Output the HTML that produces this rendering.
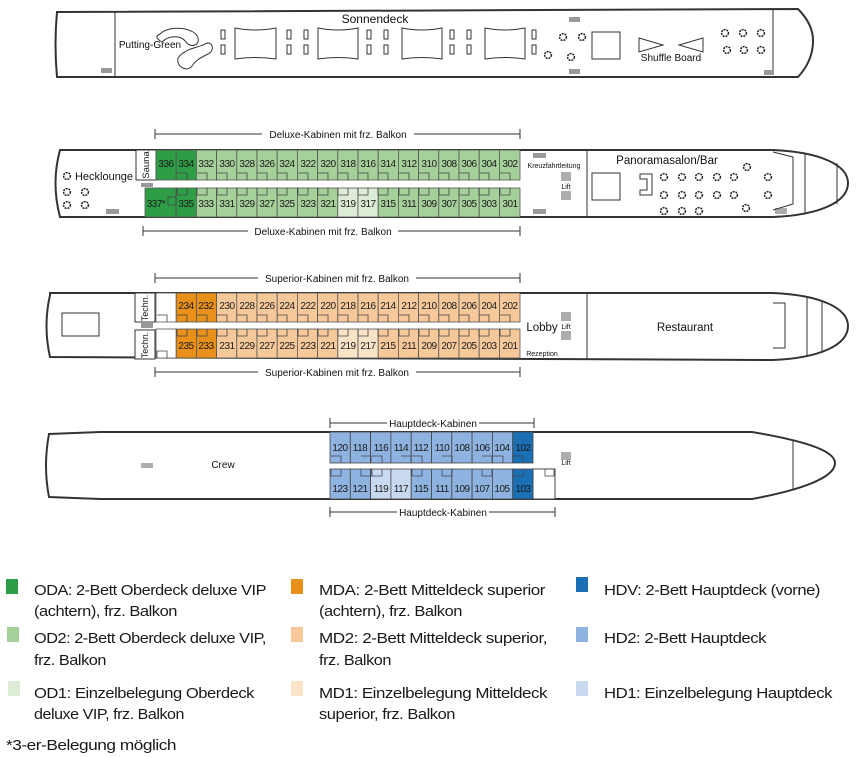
<!DOCTYPE html>
<html><head><meta charset="utf-8"><style>
html,body{margin:0;padding:0;background:#fff;}
svg{display:block;font-family:"Liberation Sans",sans-serif;}
.c{font-size:10px;letter-spacing:-0.5px;text-anchor:middle;fill:#1a1a1a;}
.l{font-size:10px;text-anchor:middle;fill:#111;}
.lg{font-size:14.5px;fill:#1a1a1a;letter-spacing:-0.4px;}
.h{fill:none;stroke:#333;stroke-width:2;}
.t{fill:none;stroke:#333;stroke-width:1;}
</style></head><body>
<svg width="860" height="757" viewBox="0 0 860 757" xmlns="http://www.w3.org/2000/svg">
<defs>
<g id="fl"><circle r="3.4" fill="none" stroke="#222" stroke-width="1.5" stroke-dasharray="2 0.9"/></g>
</defs>

<!-- ========== SUN DECK ========== -->
<path class="h" d="M57,12 L798,9 Q814,25 813,43 Q812,62 798,77 L57,77 Q54,44 57,12 Z"/>
<line class="t" x1="115" y1="11" x2="115" y2="77"/>
<line class="t" x1="773" y1="10" x2="773" y2="70"/>
<text x="375" y="23" font-size="12" text-anchor="middle" fill="#111">Sonnendeck</text>
<path class="t" d="M160,34 C170,24 196,28 198,38 C200,46 190,48 186,42 C182,36 170,34 162,42 C155,38 156,36 160,34 Z M178,58 C185,48 198,48 205,44 C212,40 216,50 208,54 C200,58 196,60 192,66 C188,72 176,68 178,58 Z"/>
<text x="150" y="48" font-size="10" text-anchor="middle" fill="#111">Putting-Green</text>
<g fill="none" stroke="#333" stroke-width="1">
<path d="M235,28 Q255,32 276,28 L276,59 Q255,56 235,59 Z"/>
<path d="M318,28 Q338,32 358,28 L358,59 Q338,56 318,59 Z"/>
<path d="M402,28 Q422,32 442,28 L442,59 Q422,56 402,59 Z"/>
<path d="M485,28 Q505,32 525,28 L525,59 Q505,56 485,59 Z"/>
<rect x="221" y="30" width="4" height="9"/><rect x="221" y="45" width="4" height="9"/>
<rect x="287" y="30" width="4" height="9"/><rect x="287" y="45" width="4" height="9"/>
<rect x="304" y="30" width="4" height="9"/><rect x="304" y="45" width="4" height="9"/>
<rect x="367" y="30" width="4" height="9"/><rect x="367" y="45" width="4" height="9"/>
<rect x="384" y="30" width="4" height="9"/><rect x="384" y="45" width="4" height="9"/>
<rect x="450" y="30" width="4" height="9"/><rect x="450" y="45" width="4" height="9"/>
<rect x="467" y="30" width="4" height="9"/><rect x="467" y="45" width="4" height="9"/>
<rect x="532" y="30" width="4" height="9"/><rect x="532" y="45" width="4" height="9"/>
<rect x="592" y="32" width="28" height="27"/>
<path d="M639,38 L663,45 L639,52 Z"/><path d="M703,38 L679,45 L703,52 Z"/>
</g>
<use href="#fl" x="563" y="37"/><use href="#fl" x="548" y="55"/><use href="#fl" x="582" y="37"/><use href="#fl" x="571" y="57"/>
<use href="#fl" x="725" y="33"/><use href="#fl" x="743" y="33"/><use href="#fl" x="761" y="33"/>
<use href="#fl" x="727" y="50"/><use href="#fl" x="744" y="50"/><use href="#fl" x="761" y="50"/>
<text x="671" y="61" font-size="10" text-anchor="middle" fill="#111">Shuffle Board</text>
<g fill="#999"><rect x="101" y="68" width="11" height="5"/><rect x="569" y="17" width="11" height="5"/><rect x="569" y="69" width="11" height="5"/><rect x="764" y="70" width="10" height="5"/></g>

<!-- ========== DECK 3 ========== -->
<g stroke="#333" stroke-width="1"><line x1="155" y1="134" x2="520" y2="134"/><line x1="155" y1="129" x2="155" y2="139"/><line x1="520" y1="129" x2="520" y2="139"/>
<line x1="143" y1="231" x2="520" y2="231"/><line x1="143" y1="226" x2="143" y2="236"/><line x1="520" y1="226" x2="520" y2="236"/></g>
<rect x="262" y="127" width="152" height="14" fill="#fff"/><text x="338" y="138" class="l">Deluxe-Kabinen mit frz. Balkon</text>
<rect x="248" y="224" width="150" height="14" fill="#fff"/><text x="323" y="235" class="l">Deluxe-Kabinen mit frz. Balkon</text>

<path class="h" d="M60,150 L773,150 C820,152 848,165 848,183 C848,202 820,215 773,217 L60,217 Q51,183 60,150 Z"/>
<line class="t" x1="587" y1="150" x2="587" y2="217"/>
<line class="t" x1="805" y1="153" x2="805" y2="214"/><line class="t" x1="837" y1="163" x2="837" y2="204"/>
<path class="t" d="M773,152 L793,157 L793,204 L773,210"/>
<g stroke="#333" stroke-width="0.8"><path d="M776,208v6M778,208v6M780,208v6M782,208v6M784,208v6M786,208v6"/></g>
<text x="667" y="164" font-size="11.5" text-anchor="middle" fill="#111">Panoramasalon/Bar</text>
<rect x="592" y="173" width="28" height="27" class="t"/>
<path class="t" d="M640,174 L652,174 L652,195 L640,195 L640,190 L647,190 L647,179 L640,179 Z"/>
<use href="#fl" x="664" y="177"/><use href="#fl" x="682" y="177"/><use href="#fl" x="699" y="177"/><use href="#fl" x="717" y="177"/><use href="#fl" x="734" y="177"/><use href="#fl" x="768" y="177"/>
<use href="#fl" x="664" y="195"/><use href="#fl" x="682" y="195"/><use href="#fl" x="699" y="195"/><use href="#fl" x="717" y="195"/><use href="#fl" x="734" y="195"/><use href="#fl" x="768" y="195"/>
<use href="#fl" x="664" y="211"/><use href="#fl" x="682" y="211"/><use href="#fl" x="699" y="211"/><use href="#fl" x="747" y="167"/><use href="#fl" x="746" y="208"/>
<text x="554" y="168" font-size="7" text-anchor="middle" fill="#111">Kreuzfahrtleitung</text>
<text x="566" y="189" font-size="7" text-anchor="middle" fill="#111">Lift</text>
<g stroke="#333" stroke-width="0.8"><path d="M562,172v9M564,172v9M566,172v9M568,172v9M570,172v9M562,191v9M564,191v9M566,191v9M568,191v9M570,191v9"/></g>
<g fill="#999"><rect x="533" y="153" width="13" height="5"/><rect x="533" y="209" width="13" height="5"/><rect x="106" y="209" width="13" height="5"/><rect x="141" y="183" width="12" height="4"/></g>
<text x="104" y="180" font-size="11" text-anchor="middle" fill="#111">Hecklounge</text>
<use href="#fl" x="67" y="176"/><use href="#fl" x="67" y="192"/><use href="#fl" x="85" y="192"/><use href="#fl" x="67" y="205"/><use href="#fl" x="85" y="205"/>
<rect x="136" y="150" width="20" height="30" fill="#fff" stroke="#333"/>
<text transform="translate(149,165) rotate(-90)" font-size="9.5" text-anchor="middle" fill="#111">Sauna</text>

<g stroke="#555" stroke-width="0.8">
<rect x="156" y="150" width="20.2" height="30" fill="#2e9e46"/><rect x="176.2" y="150" width="20.2" height="30" fill="#2e9e46"/>
<rect x="196.4" y="150" width="20.2" height="30" fill="#a5d09a"/><rect x="216.6" y="150" width="20.2" height="30" fill="#a5d09a"/><rect x="236.8" y="150" width="20.2" height="30" fill="#a5d09a"/><rect x="257" y="150" width="20.2" height="30" fill="#a5d09a"/><rect x="277.2" y="150" width="20.2" height="30" fill="#a5d09a"/><rect x="297.4" y="150" width="20.2" height="30" fill="#a5d09a"/><rect x="317.6" y="150" width="20.2" height="30" fill="#a5d09a"/><rect x="337.8" y="150" width="20.2" height="30" fill="#a5d09a"/><rect x="358" y="150" width="20.2" height="30" fill="#a5d09a"/><rect x="378.2" y="150" width="20.2" height="30" fill="#a5d09a"/><rect x="398.4" y="150" width="20.2" height="30" fill="#a5d09a"/><rect x="418.6" y="150" width="20.2" height="30" fill="#a5d09a"/><rect x="438.8" y="150" width="20.2" height="30" fill="#a5d09a"/><rect x="459" y="150" width="20.2" height="30" fill="#a5d09a"/><rect x="479.2" y="150" width="20.2" height="30" fill="#a5d09a"/><rect x="499.4" y="150" width="20.6" height="30" fill="#a5d09a"/>
<rect x="145" y="188" width="31" height="29" fill="#2e9e46"/><rect x="176.2" y="188" width="20.2" height="29" fill="#2e9e46"/>
<rect x="196.4" y="188" width="20.2" height="29" fill="#a5d09a"/><rect x="216.6" y="188" width="20.2" height="29" fill="#a5d09a"/><rect x="236.8" y="188" width="20.2" height="29" fill="#a5d09a"/><rect x="257" y="188" width="20.2" height="29" fill="#a5d09a"/><rect x="277.2" y="188" width="20.2" height="29" fill="#a5d09a"/><rect x="297.4" y="188" width="20.2" height="29" fill="#a5d09a"/><rect x="317.6" y="188" width="20.2" height="29" fill="#a5d09a"/><rect x="337.8" y="188" width="20.2" height="29" fill="#dcecd6"/><rect x="358" y="188" width="20.2" height="29" fill="#dcecd6"/><rect x="378.2" y="188" width="20.2" height="29" fill="#a5d09a"/><rect x="398.4" y="188" width="20.2" height="29" fill="#a5d09a"/><rect x="418.6" y="188" width="20.2" height="29" fill="#a5d09a"/><rect x="438.8" y="188" width="20.2" height="29" fill="#a5d09a"/><rect x="459" y="188" width="20.2" height="29" fill="#a5d09a"/><rect x="479.2" y="188" width="20.2" height="29" fill="#a5d09a"/><rect x="499.4" y="188" width="20.6" height="29" fill="#a5d09a"/>
</g>
<g fill="none" stroke="#444" stroke-width="0.8">
<path d="M177,173h10v7M197,173h10v7M217,173h10v7M237,173h10v7M257,173h10v7M277,173h10v7M298,173h10v7M318,173h10v7M338,173h10v7M358,173h10v7M378,173h10v7M399,173h10v7M419,173h10v7M439,173h10v7M459,173h10v7M479,173h10v7M500,173h10v7"/>
<path d="M177,188v7h10v-7M197,188v7h10v-7M217,188v7h10v-7M237,188v7h10v-7M257,188v7h10v-7M277,188v7h10v-7M298,188v7h10v-7M318,188v7h10v-7M338,188v7h10v-7M358,188v7h10v-7M378,188v7h10v-7M399,188v7h10v-7M419,188v7h10v-7M439,188v7h10v-7M459,188v7h10v-7M479,188v7h10v-7M500,188v7h10v-7"/>
<rect x="168" y="197" width="8" height="8"/>
</g>
<g class="c">
<text x="166" y="167">336</text><text x="186" y="167">334</text><text x="206" y="167">332</text><text x="227" y="167">330</text><text x="247" y="167">328</text><text x="267" y="167">326</text><text x="287" y="167">324</text><text x="308" y="167">322</text><text x="328" y="167">320</text><text x="348" y="167">318</text><text x="368" y="167">316</text><text x="388" y="167">314</text><text x="409" y="167">312</text><text x="429" y="167">310</text><text x="449" y="167">308</text><text x="469" y="167">306</text><text x="489" y="167">304</text><text x="510" y="167">302</text>
<text x="156" y="207">337*</text><text x="186" y="207">335</text><text x="206" y="207">333</text><text x="227" y="207">331</text><text x="247" y="207">329</text><text x="267" y="207">327</text><text x="287" y="207">325</text><text x="308" y="207">323</text><text x="328" y="207">321</text><text x="348" y="207">319</text><text x="368" y="207">317</text><text x="388" y="207">315</text><text x="409" y="207">311</text><text x="429" y="207">309</text><text x="449" y="207">307</text><text x="469" y="207">305</text><text x="489" y="207">303</text><text x="510" y="207">301</text>
</g>

<!-- ========== DECK 2 ========== -->
<g stroke="#333" stroke-width="1"><line x1="155" y1="278" x2="520" y2="278"/><line x1="155" y1="273" x2="155" y2="283"/><line x1="520" y1="273" x2="520" y2="283"/>
<line x1="155" y1="372" x2="520" y2="372"/><line x1="155" y1="367" x2="155" y2="377"/><line x1="520" y1="367" x2="520" y2="377"/></g>
<rect x="258" y="271" width="158" height="14" fill="#fff"/><text x="337" y="282" class="l">Superior-Kabinen mit frz. Balkon</text>
<rect x="258" y="365" width="158" height="14" fill="#fff"/><text x="337" y="376" class="l">Superior-Kabinen mit frz. Balkon</text>
<path class="h" d="M50,293 L773,293 C820,295 848,308 848,326 C848,345 820,358 773,360 L50,357 Q43,326 50,295 Z"/>
<line class="t" x1="587" y1="293" x2="587" y2="360"/>
<line class="t" x1="807" y1="296" x2="807" y2="357"/><line class="t" x1="822" y1="301" x2="822" y2="353"/>
<path class="t" d="M773,303 L785,303 L785,348 L773,348"/>
<rect x="62" y="313" width="37" height="23" class="t"/>
<text x="685" y="331" font-size="11.5" text-anchor="middle" fill="#111">Restaurant</text>
<text x="542" y="331" font-size="11.5" text-anchor="middle" fill="#111">Lobby</text>
<text x="566" y="329" font-size="7" text-anchor="middle" fill="#111">Lift</text>
<text x="542" y="356" font-size="7" text-anchor="middle" fill="#111">Rezeption</text>
<g stroke="#333" stroke-width="0.8"><path d="M562,312v9M564,312v9M566,312v9M568,312v9M570,312v9M562,331v9M564,331v9M566,331v9M568,331v9M570,331v9"/></g>
<rect x="135" y="293" width="20" height="29" fill="#fff" stroke="#333"/><rect x="135" y="330" width="20" height="29" fill="#fff" stroke="#333"/>
<rect x="141" y="323" width="12" height="5" fill="#999"/>
<text transform="translate(148,308) rotate(-90)" font-size="9" text-anchor="middle" fill="#111">Techn.</text>
<text transform="translate(148,345) rotate(-90)" font-size="9" text-anchor="middle" fill="#111">Techn.</text>
<g stroke="#555" stroke-width="0.8">
<rect x="156" y="293" width="20.2" height="29" fill="#fff"/><rect x="176.2" y="293" width="20.2" height="29" fill="#e8901a"/><rect x="196.4" y="293" width="20.2" height="29" fill="#e8901a"/><rect x="216.6" y="293" width="20.2" height="29" fill="#f7c99a"/><rect x="236.8" y="293" width="20.2" height="29" fill="#f7c99a"/><rect x="257" y="293" width="20.2" height="29" fill="#f7c99a"/><rect x="277.2" y="293" width="20.2" height="29" fill="#f7c99a"/><rect x="297.4" y="293" width="20.2" height="29" fill="#f7c99a"/><rect x="317.6" y="293" width="20.2" height="29" fill="#f7c99a"/><rect x="337.8" y="293" width="20.2" height="29" fill="#f7c99a"/><rect x="358" y="293" width="20.2" height="29" fill="#f7c99a"/><rect x="378.2" y="293" width="20.2" height="29" fill="#f7c99a"/><rect x="398.4" y="293" width="20.2" height="29" fill="#f7c99a"/><rect x="418.6" y="293" width="20.2" height="29" fill="#f7c99a"/><rect x="438.8" y="293" width="20.2" height="29" fill="#f7c99a"/><rect x="459" y="293" width="20.2" height="29" fill="#f7c99a"/><rect x="479.2" y="293" width="20.2" height="29" fill="#f7c99a"/><rect x="499.4" y="293" width="20.6" height="29" fill="#f7c99a"/>
<rect x="156" y="329" width="20.2" height="29" fill="#fff"/><rect x="176.2" y="329" width="20.2" height="29" fill="#e8901a"/><rect x="196.4" y="329" width="20.2" height="29" fill="#e8901a"/><rect x="216.6" y="329" width="20.2" height="29" fill="#f7c99a"/><rect x="236.8" y="329" width="20.2" height="29" fill="#f7c99a"/><rect x="257" y="329" width="20.2" height="29" fill="#f7c99a"/><rect x="277.2" y="329" width="20.2" height="29" fill="#f7c99a"/><rect x="297.4" y="329" width="20.2" height="29" fill="#f7c99a"/><rect x="317.6" y="329" width="20.2" height="29" fill="#f7c99a"/><rect x="337.8" y="329" width="20.2" height="29" fill="#fbe3c8"/><rect x="358" y="329" width="20.2" height="29" fill="#fbe3c8"/><rect x="378.2" y="329" width="20.2" height="29" fill="#f7c99a"/><rect x="398.4" y="329" width="20.2" height="29" fill="#f7c99a"/><rect x="418.6" y="329" width="20.2" height="29" fill="#f7c99a"/><rect x="438.8" y="329" width="20.2" height="29" fill="#f7c99a"/><rect x="459" y="329" width="20.2" height="29" fill="#f7c99a"/><rect x="479.2" y="329" width="20.2" height="29" fill="#f7c99a"/><rect x="499.4" y="329" width="20.6" height="29" fill="#f7c99a"/>
</g>
<g fill="none" stroke="#444" stroke-width="0.8">
<path d="M157,315h10v7M177,315h10v7M197,315h10v7M217,315h10v7M237,315h10v7M257,315h10v7M277,315h10v7M298,315h10v7M318,315h10v7M338,315h10v7M358,315h10v7M378,315h10v7M399,315h10v7M419,315h10v7M439,315h10v7M459,315h10v7M479,315h10v7M500,315h10v7"/>
<path d="M177,329v7h10v-7M197,329v7h10v-7M217,329v7h10v-7M237,329v7h10v-7M257,329v7h10v-7M277,329v7h10v-7M298,329v7h10v-7M318,329v7h10v-7M338,329v7h10v-7M358,329v7h10v-7M378,329v7h10v-7M399,329v7h10v-7M419,329v7h10v-7M439,329v7h10v-7M459,329v7h10v-7M479,329v7h10v-7M500,329v7h10v-7M157,358v-7h10v7"/>
</g>
<g class="c">
<text x="186" y="309">234</text><text x="206" y="309">232</text><text x="227" y="309">230</text><text x="247" y="309">228</text><text x="267" y="309">226</text><text x="287" y="309">224</text><text x="308" y="309">222</text><text x="328" y="309">220</text><text x="348" y="309">218</text><text x="368" y="309">216</text><text x="388" y="309">214</text><text x="409" y="309">212</text><text x="429" y="309">210</text><text x="449" y="309">208</text><text x="469" y="309">206</text><text x="489" y="309">204</text><text x="510" y="309">202</text>
<text x="186" y="349">235</text><text x="206" y="349">233</text><text x="227" y="349">231</text><text x="247" y="349">229</text><text x="267" y="349">227</text><text x="287" y="349">225</text><text x="308" y="349">223</text><text x="328" y="349">221</text><text x="348" y="349">219</text><text x="368" y="349">217</text><text x="388" y="349">215</text><text x="409" y="349">211</text><text x="429" y="349">209</text><text x="449" y="349">207</text><text x="469" y="349">205</text><text x="489" y="349">203</text><text x="510" y="349">201</text>
</g>

<!-- ========== DECK 1 ========== -->
<g stroke="#333" stroke-width="1"><line x1="330" y1="423" x2="534" y2="423"/><line x1="330" y1="418" x2="330" y2="428"/><line x1="534" y1="418" x2="534" y2="428"/>
<line x1="330" y1="512" x2="555" y2="512"/><line x1="330" y1="507" x2="330" y2="517"/><line x1="555" y1="507" x2="555" y2="517"/></g>
<rect x="387" y="416" width="92" height="14" fill="#fff"/><text x="433" y="427" class="l">Hauptdeck-Kabinen</text>
<rect x="397" y="505" width="92" height="14" fill="#fff"/><text x="443" y="516" class="l">Hauptdeck-Kabinen</text>
<path class="h" d="M49,434 L100,432 L752,432 C800,440 835,450 835,463 C835,478 800,490 752,499 L100,499 L49,497 Q43,466 49,434 Z"/>
<line class="t" x1="793" y1="441" x2="793" y2="489"/>
<g stroke="#333" stroke-width="0.8"><path d="M142,463v5M144,463v5M146,463v5M148,463v5M150,463v5M152,463v5"/><path d="M562,452v8M564,452v8M566,452v8M568,452v8M570,452v8"/></g>
<text x="223" y="468" font-size="10" text-anchor="middle" fill="#111">Crew</text>
<text x="566" y="465" font-size="7" text-anchor="middle" fill="#111">Lift</text>
<rect x="533" y="469" width="22" height="30" fill="#fff" stroke="#444"/><rect x="545" y="469" width="9" height="7" fill="none" stroke="#444" stroke-width="0.8"/>
<g stroke="#444" stroke-width="0.8">
<rect x="330" y="432" width="20.3" height="31" fill="#8fb3e0"/><rect x="350.3" y="432" width="20.3" height="31" fill="#8fb3e0"/><rect x="370.6" y="432" width="20.3" height="31" fill="#8fb3e0"/><rect x="390.9" y="432" width="20.3" height="31" fill="#8fb3e0"/><rect x="411.2" y="432" width="20.3" height="31" fill="#8fb3e0"/><rect x="431.5" y="432" width="20.3" height="31" fill="#8fb3e0"/><rect x="451.8" y="432" width="20.3" height="31" fill="#8fb3e0"/><rect x="472.1" y="432" width="20.3" height="31" fill="#8fb3e0"/><rect x="492.4" y="432" width="20.3" height="31" fill="#8fb3e0"/><rect x="512.7" y="432" width="20.3" height="31" fill="#1a6fb5"/>
<rect x="330" y="469" width="20.3" height="30" fill="#8fb3e0"/><rect x="350.3" y="469" width="20.3" height="30" fill="#8fb3e0"/><rect x="370.6" y="469" width="20.3" height="30" fill="#c9d9f0"/><rect x="390.9" y="469" width="20.3" height="30" fill="#c9d9f0"/><rect x="411.2" y="469" width="20.3" height="30" fill="#8fb3e0"/><rect x="431.5" y="469" width="20.3" height="30" fill="#8fb3e0"/><rect x="451.8" y="469" width="20.3" height="30" fill="#8fb3e0"/><rect x="472.1" y="469" width="20.3" height="30" fill="#8fb3e0"/><rect x="492.4" y="469" width="20.3" height="30" fill="#8fb3e0"/><rect x="512.7" y="469" width="20.3" height="30" fill="#1a6fb5"/>
</g>
<g fill="none" stroke="#445" stroke-width="0.8">
<path d="M331,456h10v7M361,456h10v7M372,456h10v7M401,456h10v7M412,456h10v7M442,456h10v7M482,456h10v7M493,456h10v7M513,456h10v7"/>
<path d="M331,469v7h10v-7M361,469v7h10v-7M372,469v7h10v-7M412,469v7h10v-7M442,469v7h10v-7M482,469v7h10v-7M513,469v7h10v-7"/>
</g>
<g class="c">
<text x="340" y="451">120</text><text x="360" y="451">118</text><text x="381" y="451">116</text><text x="401" y="451">114</text><text x="421" y="451">112</text><text x="442" y="451">110</text><text x="462" y="451">108</text><text x="482" y="451">106</text><text x="502" y="451">104</text><text x="523" y="451">102</text>
<text x="340" y="492">123</text><text x="360" y="492">121</text><text x="381" y="492">119</text><text x="401" y="492">117</text><text x="421" y="492">115</text><text x="442" y="492">111</text><text x="462" y="492">109</text><text x="482" y="492">107</text><text x="502" y="492">105</text><text x="523" y="492">103</text>
</g>

<!-- ========== LEGEND ========== -->
<rect x="6" y="579" width="12" height="15" fill="#2e9e46"/>
<rect x="7" y="627" width="12" height="15" fill="#a5d09a"/>
<rect x="8" y="681" width="12" height="15" fill="#dcecd6"/>
<rect x="291" y="579" width="12" height="15" fill="#e8901a"/>
<rect x="291" y="627" width="12" height="15" fill="#f7c99a"/>
<rect x="291" y="681" width="12" height="15" fill="#fbe3c8"/>
<rect x="576" y="577" width="12" height="15" fill="#1a6fb5"/>
<rect x="576" y="627" width="12" height="15" fill="#8fb3e0"/>
<rect x="576" y="681" width="12" height="15" fill="#c9d9f0"/>
<g class="lg">
<text x="34" y="595" textLength="232" lengthAdjust="spacingAndGlyphs">ODA: 2-Bett Oberdeck deluxe VIP</text>
<text x="34" y="616" textLength="143" lengthAdjust="spacingAndGlyphs">(achtern), frz. Balkon</text>
<text x="34" y="643" textLength="232" lengthAdjust="spacingAndGlyphs">OD2: 2-Bett Oberdeck deluxe VIP,</text>
<text x="34" y="665" textLength="72" lengthAdjust="spacingAndGlyphs">frz. Balkon</text>
<text x="34" y="698" textLength="220" lengthAdjust="spacingAndGlyphs">OD1: Einzelbelegung Oberdeck</text>
<text x="34" y="719" textLength="150" lengthAdjust="spacingAndGlyphs">deluxe VIP, frz. Balkon</text>
<text x="319" y="595" textLength="226" lengthAdjust="spacingAndGlyphs">MDA: 2-Bett Mitteldeck superior</text>
<text x="319" y="616" textLength="143" lengthAdjust="spacingAndGlyphs">(achtern), frz. Balkon</text>
<text x="319" y="643" textLength="228" lengthAdjust="spacingAndGlyphs">MD2: 2-Bett Mitteldeck superior,</text>
<text x="319" y="665" textLength="72" lengthAdjust="spacingAndGlyphs">frz. Balkon</text>
<text x="319" y="698" textLength="228" lengthAdjust="spacingAndGlyphs">MD1: Einzelbelegung Mitteldeck</text>
<text x="319" y="719" textLength="136" lengthAdjust="spacingAndGlyphs">superior, frz. Balkon</text>
<text x="604" y="595" textLength="216" lengthAdjust="spacingAndGlyphs">HDV: 2-Bett Hauptdeck (vorne)</text>
<text x="604" y="643" textLength="162" lengthAdjust="spacingAndGlyphs">HD2: 2-Bett Hauptdeck</text>
<text x="604" y="698" textLength="228" lengthAdjust="spacingAndGlyphs">HD1: Einzelbelegung Hauptdeck</text>
<text x="6" y="750" textLength="170" lengthAdjust="spacingAndGlyphs">*3-er-Belegung möglich</text>
</g>
</svg>
</body></html>
